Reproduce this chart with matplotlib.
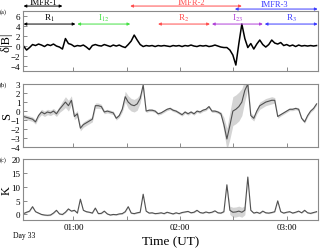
"""
Day 33 interval: delta|B|, S and K time series with IMF regime markers.
"""
import numpy as np
import matplotlib
matplotlib.use("Agg")
import matplotlib.pyplot as plt
from matplotlib.ticker import FixedLocator, MultipleLocator

plt.rcParams["font.family"] = ["Liberation Serif", "DejaVu Serif"]
plt.rcParams["mathtext.fontset"] = "stix"

# time span of the samples (hours UT)
T_START, T_END = 0.533, 3.28
X_LIM = (0.528, 3.294)

db_vals = [
    0.0, -0.8, -0.3, 0.3, 0.1, 0.4, 0.2, -0.1, 0.3, 0.1,
    0.4, 0.0, -0.2, -0.6, 1.5, 0.5, 0.3, -0.1, 0.1, 0.0,
    0.2, -0.2, -0.7, 0.1, 0.3, 0.1, 0.0, 0.3, 0.1, -0.1,
    0.2, 0.0, 0.2, -0.1, -0.3, 0.3, 1.0, 2.2, 1.2, 0.3,
    -0.1, 0.1, 0.0, 0.1, -0.1, 0.1, 0.0, 0.1, 0.0, -0.1,
    0.1, 0.0, 0.1, -0.1, 0.1, 0.0, 0.2, 0.0, -0.1, 0.1,
    0.0, 0.1, -0.1, 0.0, 0.2, 0.0, -0.2, -0.3, -0.3, -0.8,
    -1.8, -3.8, 0.5, 4.4, 1.5, -0.3, 0.5, -0.6, 0.4, 1.2,
    0.3, -0.2, 0.3, 1.2, 0.6, 0.4, 0.7, 0.1, 0.3, 0.0,
    0.2, -0.1, 0.2, 0.0, 0.1, 0.0, 0.1, 0.0, 0.1,
]

s_vals = [
    -0.6, -0.7, -0.8, -0.9, -1.2, -0.5, -0.1, -0.3, -0.1, -0.2,
    0.0, -0.3, 0.2, 0.6, 1.0, 0.6, 1.2, -0.6, -0.3, -1.9,
    -1.5, -1.3, -1.1, -0.9, 0.6, 0.6, 0.5, -0.1, 0.0, -0.1,
    -0.2, -0.8, -0.5, 0.2, 1.6, 1.0, 0.7, 0.6, 0.8, 1.4,
    2.9, 0.0, 0.1, 0.1, 0.0, -0.3, -0.2, 0.0, 0.2, 0.3,
    0.1, 0.0, -0.2, -0.4, -0.1, -0.3, -0.1, -0.3, 0.0, -0.1,
    0.1, 0.2, 0.5, 0.0, 0.0, -0.1, -0.3, -1.5, -3.1, -1.6,
    0.0, 0.2, 0.5, 1.0, 2.3, 3.0, -0.5, -0.8, 0.0, 0.6,
    0.8, 1.0, 1.1, 1.2, 1.2, -0.6, -0.4, -0.2, 0.0, 0.2,
    0.2, 0.3, 0.2, -0.8, -1.2, -0.5, 0.0, 0.3, 0.8,
]

s_err = [
    0.25, 0.25, 0.25, 0.25, 0.25, 0.25, 0.3, 0.3, 0.3, 0.3,
    0.3, 0.3, 0.35, 0.5, 0.6, 0.6, 0.5, 0.35, 0.35, 0.3,
    0.3, 0.3, 0.3, 0.3, 0.3, 0.3, 0.25, 0.2, 0.2, 0.2,
    0.2, 0.2, 0.2, 0.3, 0.6, 0.7, 0.7, 0.7, 0.7, 0.5,
    0.3, 0.15, 0.15, 0.15, 0.15, 0.15, 0.15, 0.15, 0.15, 0.15,
    0.15, 0.15, 0.15, 0.15, 0.15, 0.15, 0.15, 0.15, 0.15, 0.15,
    0.15, 0.15, 0.15, 0.15, 0.15, 0.15, 0.2, 0.8, 1.2, 1.5,
    1.6, 1.6, 1.6, 1.5, 1.2, 0.6, 0.3, 0.3, 0.3, 0.4,
    0.4, 0.4, 0.4, 0.4, 0.3, 0.2, 0.15, 0.15, 0.15, 0.15,
    0.15, 0.15, 0.15, 0.15, 0.15, 0.15, 0.15, 0.15, 0.15,
]

k_vals = [
    0.3, 0.8, 1.2, 2.8, 1.0, 0.5, 0.0, -0.2, -0.3, -0.2,
    0.5, 1.5, 0.2, 0.0, 0.8, 2.0, 1.2, 1.5, 0.5, 5.5,
    1.5, 1.0, 0.8, 0.5, 2.3, 0.3, 0.4, 1.2, 0.2, -0.2,
    0.0, -0.1, 0.2, 0.3, 1.0, 2.8, 0.5, 0.3, 0.6, 0.8,
    7.3, 1.2, 0.5, 0.6, 0.3, 0.4, 0.6, 0.3, 0.8, 0.5,
    0.2, 0.6, 0.3, 0.7, 0.9, 1.1, 0.6, 0.8, 1.5, 0.7,
    0.5, 0.9, 0.6, 0.8, 1.3, 0.6, 0.5, 1.0, 10.7, 1.5,
    0.8, 0.9, 1.2, 0.8, 1.5, 13.5, 1.5, 0.5, 0.8, 0.4,
    1.2, 0.6, 0.5, 0.7, 1.0, 4.9, 1.0, 0.5, 0.8, 1.0,
    0.5, 0.8, 1.2, 0.6, 1.5, 0.6, 0.4, 0.7, 1.0,
]

k_err = [0.2] * 69 + [1.5, 1.8, 1.8, 1.8, 1.8, 1.6] + [0.2] * 24

hour_ticks = [1, 2, 3]
hour_labels = ["01:00", "02:00", "03:00"]

imfr_names = ["IMFR-1", "IMFR-2", "IMFR-3"]
imfr_start = [0.533, 1.533, 2.514]
imfr_end = [0.897, 2.579, 3.29]
imfr_text_t = [0.72, 2.11, 2.89]
imfr_colors = ["black", "#ff4d4d", "#3c3cff"]

seg_names = ["R$_1$", "I$_{12}$", "R$_2$", "I$_{23}$", "R$_3$"]
seg_start = [0.533, 1.037, 1.794, 2.299, 2.794]
seg_end = [1.019, 1.533, 2.280, 2.776, 3.29]
seg_colors = ["black", "#44e044", "#ff4d4d", "#b040d8", "#3c3cff"]

SPINE = "#8a8a8a"


def style_axis(ax, show_labels):
    for sp in ax.spines.values():
        sp.set_color(SPINE)
        sp.set_linewidth(0.8)
    ax.set_xlim(*X_LIM)
    ax.xaxis.set_major_locator(FixedLocator(hour_ticks))
    ax.xaxis.set_minor_locator(MultipleLocator(0.5))
    ax.tick_params(which="both", direction="in", color=SPINE, width=0.7,
                   labelsize=6.5, pad=2, length=3)
    if show_labels:
        ax.set_xticklabels(hour_labels)
    else:
        ax.set_xticklabels([])


t = np.linspace(T_START, T_END, len(db_vals))
s_arr = np.array(s_vals)
s_e = np.array(s_err)
k_arr = np.array(k_vals)
k_e = np.array(k_err)

fig = plt.figure(figsize=(3.2, 2.51), dpi=100)
ax_a = fig.add_axes([0.072, 0.713, 0.922, 0.239])
ax_b = fig.add_axes([0.072, 0.410, 0.922, 0.251])
ax_c = fig.add_axes([0.072, 0.1195, 0.922, 0.243])

# (a) delta|B|
ax_a.plot(t, db_vals, color="black", lw=1.1)
ax_a.set_ylim(-5, 7)
ax_a.set_yticks([-4, -2, 0, 2, 4, 6])
style_axis(ax_a, False)

for name, t0, t1, tt, c, yy, ty in zip(imfr_names, imfr_start, imfr_end,
                                       imfr_text_t, imfr_colors,
                                       [8.0, 8.0, 7.4], [8.75, 8.75, 8.4]):
    ax_a.annotate("", xy=(t1, yy), xytext=(t0, yy),
                  arrowprops=dict(arrowstyle="<|-|>", color=c, lw=0.7,
                                  mutation_scale=4, shrinkA=0, shrinkB=0),
                  annotation_clip=False)
    ax_a.text(tt, ty, name, color=c, fontsize=6, ha="center",
              va="center", clip_on=False)

for name, t0, t1, c in zip(seg_names, seg_start, seg_end, seg_colors):
    ax_a.annotate("", xy=(t1, 4.4), xytext=(t0, 4.4),
                  arrowprops=dict(arrowstyle="<|-|>", color=c, lw=0.7,
                                  mutation_scale=4, shrinkA=0, shrinkB=0))
    ax_a.text((t0 + t1) / 2, 5.8, name, color=c, fontsize=6.5,
              ha="center", va="center")

# (b) S with uncertainty band
ax_b.fill_between(t, s_arr - s_e, s_arr + s_e, color="#d4d4d4", lw=0)
ax_b.plot(t, s_arr, color="#505050", lw=0.8)
ax_b.set_ylim(-4, 3)
ax_b.set_yticks([-4, -3, -2, -1, 0, 1, 2, 3])
style_axis(ax_b, False)

# (c) K with uncertainty band
ax_c.fill_between(t, k_arr - k_e, k_arr + k_e, color="#d4d4d4", lw=0)
ax_c.plot(t, k_arr, color="#505050", lw=0.8)
ax_c.set_ylim(-2, 20)
ax_c.set_yticks([0, 5, 10, 15, 20])
style_axis(ax_c, True)

for ax, lab, tag in [(ax_a, "δ|B|", "(a)"), (ax_b, "S", "(b)"), (ax_c, "K", "(c)")]:
    ax.set_ylabel(lab, fontsize=9, labelpad=1)
    ax.yaxis.set_label_coords(-0.035, 0.5)
    ax.text(-0.055, 1.0, tag, transform=ax.transAxes, fontsize=4.5,
            ha="right", va="center")

fig.text(13 / 320, 1 - 236 / 251, "Day 33", fontsize=5.5, ha="left", va="center")
fig.text(171 / 320, 1 - 242 / 251, "Time (UT)", fontsize=9.5, ha="center", va="center")

fig.savefig("out.png", dpi=100, facecolor="white")
plt.close(fig)
